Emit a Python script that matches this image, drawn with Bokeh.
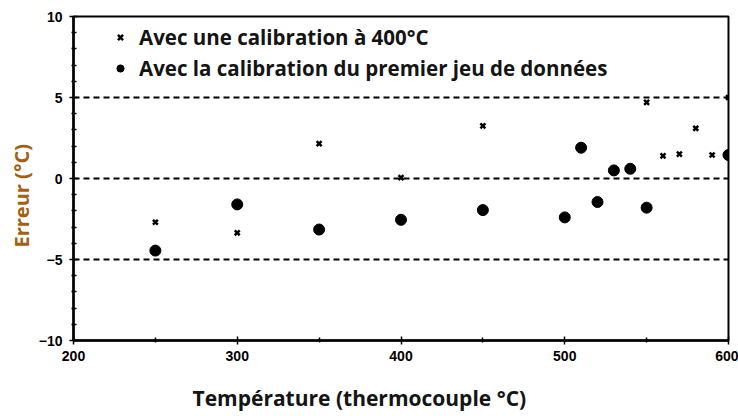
from bokeh.plotting import figure
from bokeh.models import Span, Legend, LegendItem, FixedTicker, Title
from bokeh.embed import file_html
from bokeh.resources import INLINE

# Data
temp_400 = [250, 300, 350, 400, 450, 550, 560, 570, 580, 590, 600]
err_400 = [-2.7, -3.35, 2.15, 0.05, 3.25, 4.7, 1.4, 1.5, 3.1, 1.45, 5.0]

temp_first = [250, 300, 350, 400, 450, 500, 510, 520, 530, 540, 550, 600]
err_first = [-4.45, -1.6, -3.15, -2.55, -1.95, -2.4, 1.9, -1.45, 0.5, 0.6, -1.8, 1.45]

ref_lines = [5, 0, -5]
x_ticks = [200, 300, 400, 500, 600]
x_minor = [250, 350, 450, 550]
y_ticks = [-10, -5, 0, 5, 10]
y_minor = [-9, -8, -7, -6, -4, -3, -2, -1, 1, 2, 3, 4, 6, 7, 8, 9]

label_1 = "Avec une calibration à 400°C"
label_2 = "Avec la calibration du premier jeu de données"
x_title = "Température (thermocouple °C)"
y_title = "Erreur (°C)"

TXT = "#141414"
FONT = "Open Sans"

p = figure(width=738, height=416, frame_width=655, frame_height=324,
           x_range=(200, 600), y_range=(-10, 10),
           output_backend="svg", toolbar_location=None,
           min_border_left=73, min_border_right=10, min_border_top=16, min_border_bottom=76)

p.xgrid.visible = False
p.ygrid.visible = False
p.outline_line_color = "black"
p.outline_line_width = 2
p.background_fill_color = "white"
p.border_fill_color = "white"

for ax in (p.xaxis[0], p.yaxis[0]):
    ax.axis_line_width = 2.5
    ax.axis_line_color = "black"
    ax.major_tick_in = 4
    ax.major_tick_out = 4
    ax.minor_tick_in = 3
    ax.minor_tick_out = 2
    ax.major_tick_line_width = 1.5
    ax.minor_tick_line_width = 1.5
    ax.major_label_text_font = "Liberation Sans"
    ax.major_label_text_font_style = "bold"
    ax.major_label_text_font_size = "14px"
    ax.major_label_text_color = "black"
p.xaxis[0].major_label_standoff = 6
p.yaxis[0].major_label_standoff = 7

p.xaxis.ticker = FixedTicker(ticks=x_ticks, minor_ticks=x_minor)
p.yaxis.ticker = FixedTicker(ticks=y_ticks, minor_ticks=y_minor)

for v in ref_lines:
    p.add_layout(Span(location=v, dimension="width", line_color="black",
                      line_width=2, line_dash="6 4"))

r1 = p.scatter(temp_400, err_400, marker="x", size=7, line_width=2.5, color="black")
r2 = p.scatter(temp_first, err_first, marker="circle", size=11, color="black")

legend = Legend(items=[LegendItem(label=label_1, renderers=[r1]),
                       LegendItem(label=label_2, renderers=[r2])],
                location=(38, 258), padding=0, margin=0, spacing=3,
                glyph_width=18, glyph_height=26, label_height=26, label_standoff=10,
                label_text_font=FONT, label_text_font_style="bold",
                label_text_font_size="20.5px", label_text_color=TXT,
                background_fill_alpha=0, border_line_alpha=0)
p.add_layout(legend)

p.add_layout(Title(text=x_title, align="left", offset=119, standoff=36,
                   text_font=FONT, text_font_style="bold", text_font_size="21px",
                   text_color=TXT), "below")
p.add_layout(Title(text=y_title, align="left", offset=93, standoff=1,
                   text_font=FONT, text_font_style="bold", text_font_size="20px",
                   text_color="#a55f12"), "left")

open("out.html", "w").write(file_html(p, INLINE))
